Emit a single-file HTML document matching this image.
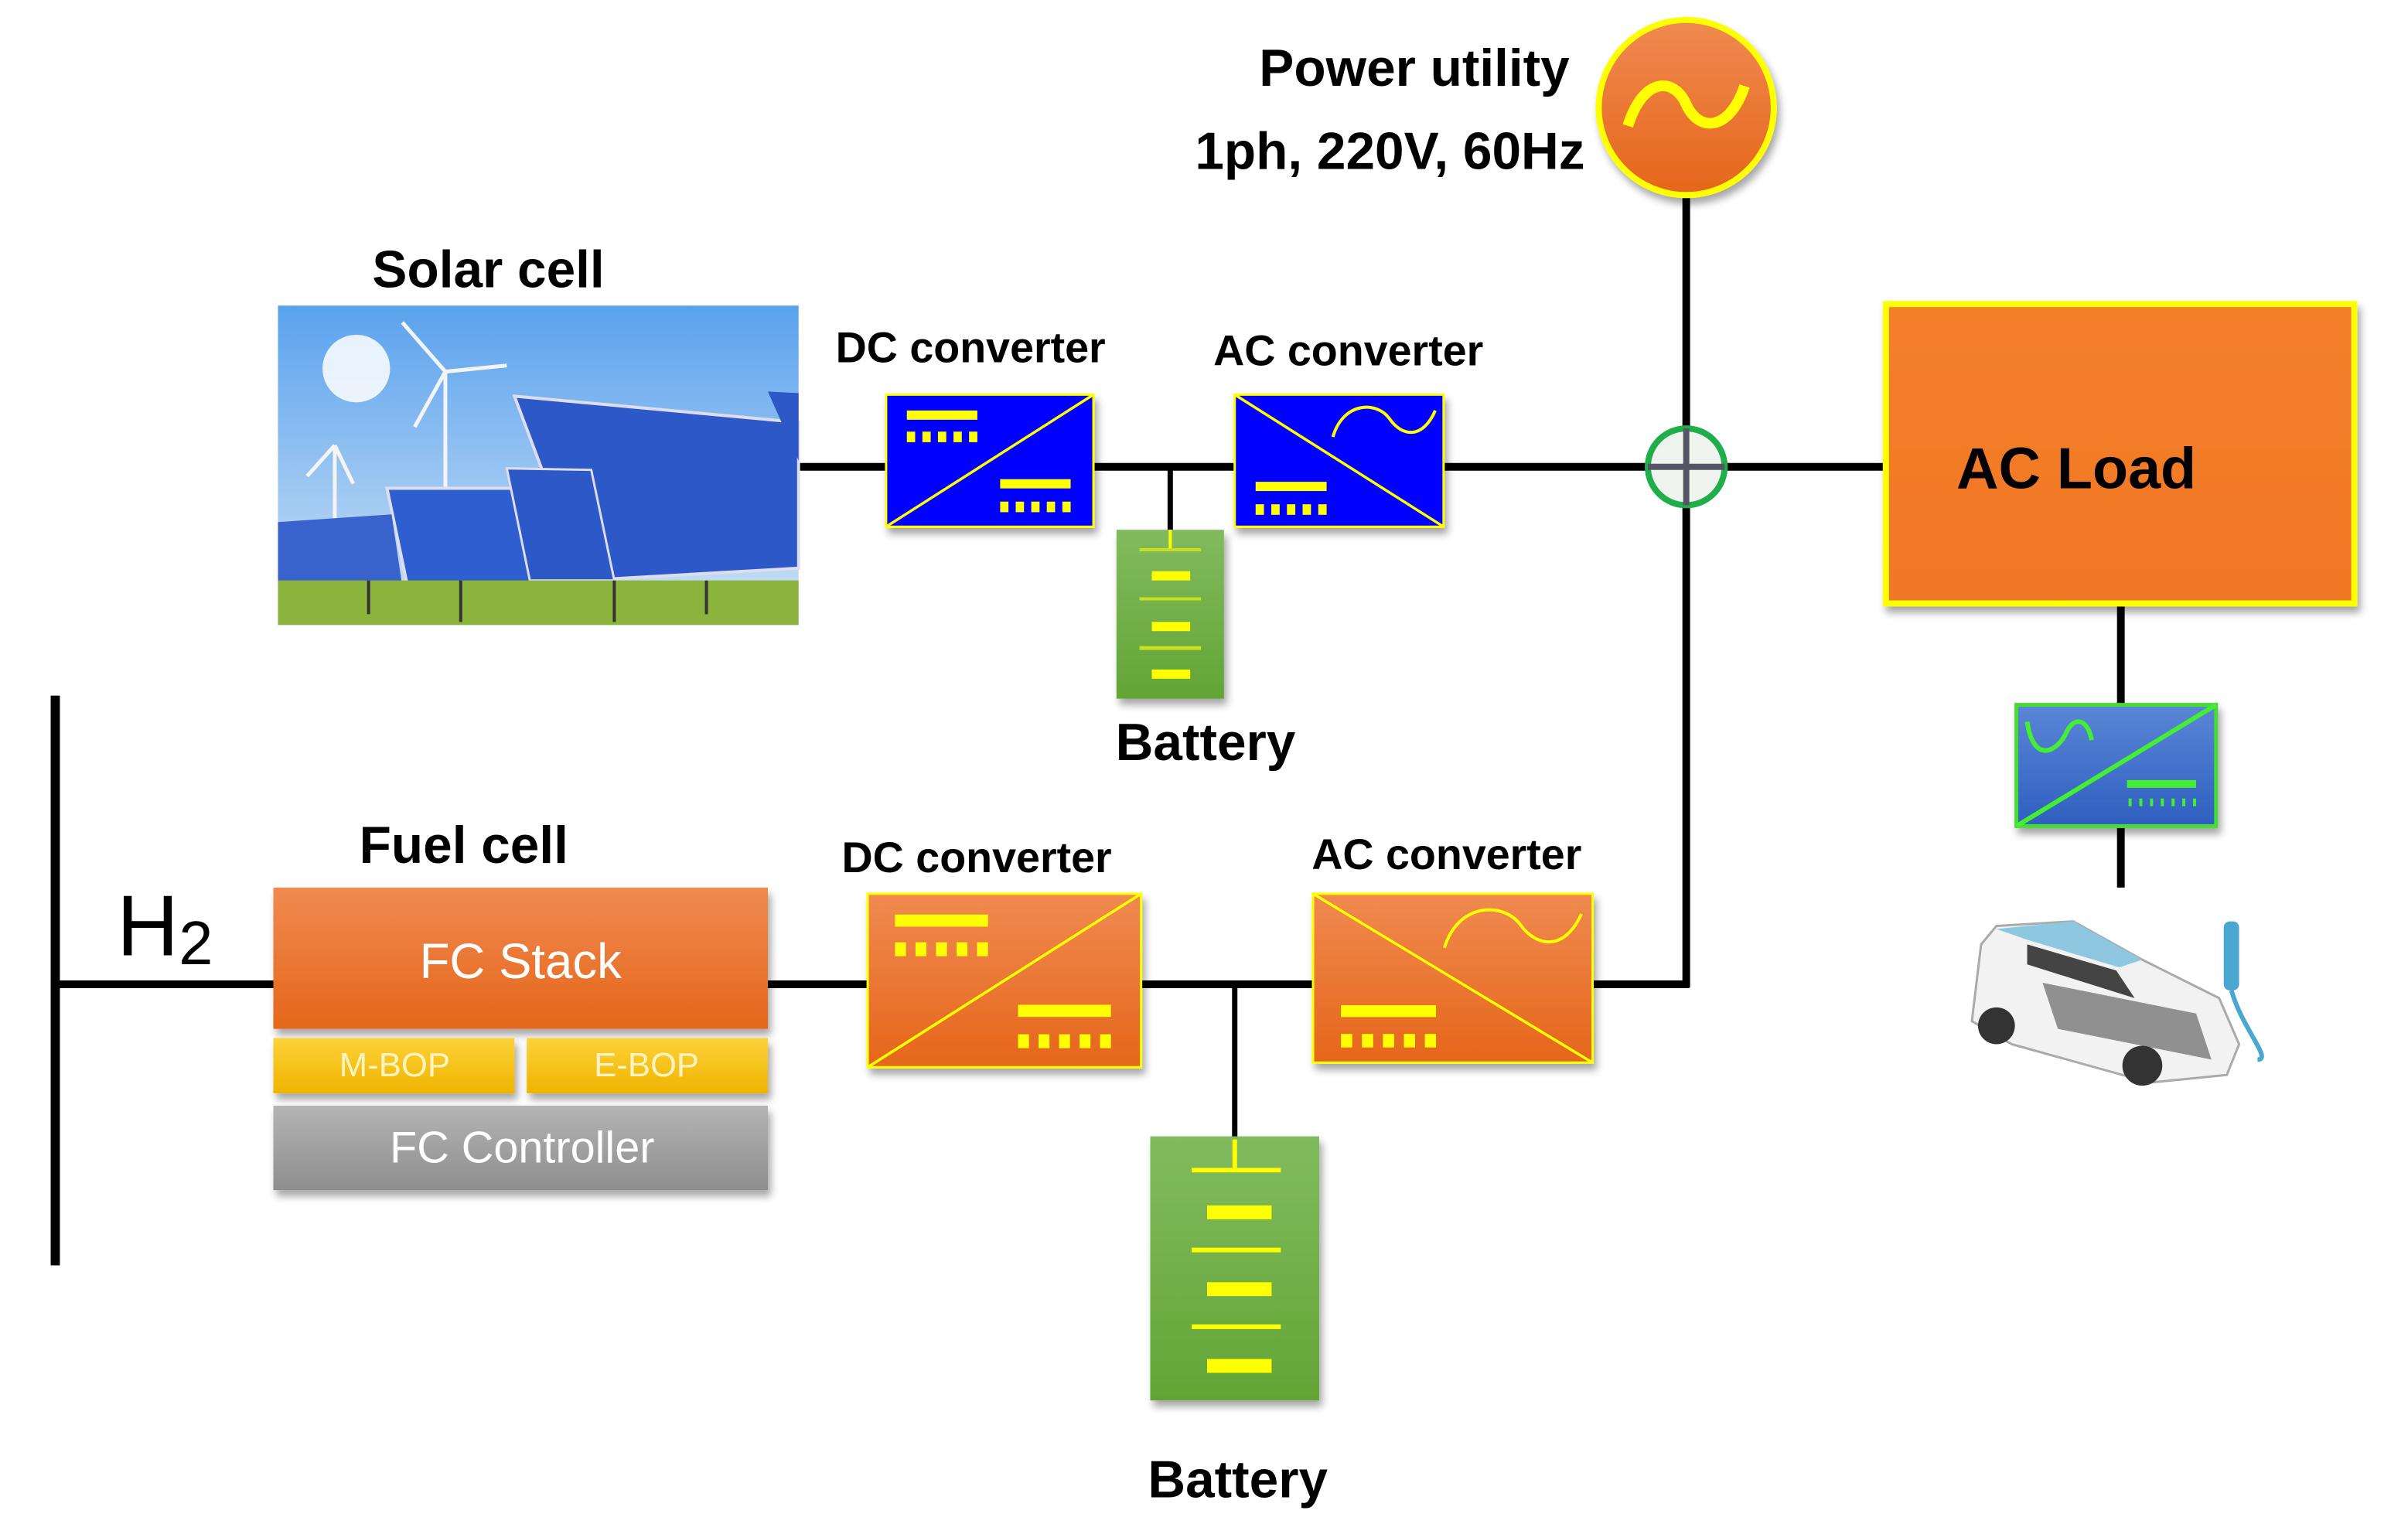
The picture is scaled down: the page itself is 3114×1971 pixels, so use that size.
<!DOCTYPE html>
<html><head><meta charset="utf-8"><style>
html,body{margin:0;padding:0;background:#fff}
svg{display:block}
text{font-family:"Liberation Sans","DejaVu Sans",sans-serif;font-weight:bold}
</style></head><body>
<svg width="3114" height="1971" viewBox="0 0 1557 985.5" xmlns="http://www.w3.org/2000/svg">
<defs>
<linearGradient id="sky" x1="0" y1="0" x2="0" y2="1"><stop offset="0" stop-color="#5aa2ee"/><stop offset="1" stop-color="#cfe3f5"/></linearGradient>
<linearGradient id="org" x1="0" y1="0" x2="0" y2="1"><stop offset="0" stop-color="#f08a50"/><stop offset="1" stop-color="#e5661a"/></linearGradient>
<linearGradient id="org2" x1="0" y1="0" x2="0" y2="1"><stop offset="0" stop-color="#f47f2c"/><stop offset="1" stop-color="#f07724"/></linearGradient>
<linearGradient id="yel" x1="0" y1="0" x2="0" y2="1"><stop offset="0" stop-color="#fdd23a"/><stop offset="1" stop-color="#efb400"/></linearGradient>
<linearGradient id="gry" x1="0" y1="0" x2="0" y2="1"><stop offset="0" stop-color="#b4b4b4"/><stop offset="1" stop-color="#8e8e8e"/></linearGradient>
<linearGradient id="grn" x1="0" y1="0" x2="0" y2="1"><stop offset="0" stop-color="#82bb5e"/><stop offset="1" stop-color="#62a535"/></linearGradient>
<linearGradient id="blu2" x1="0" y1="0" x2="0" y2="1"><stop offset="0" stop-color="#5a86d6"/><stop offset="1" stop-color="#2e5fc0"/></linearGradient>
<g id="dc">
<rect x="0" y="0" width="100" height="100" stroke="#ffff00" stroke-width="3" vector-effect="non-scaling-stroke"/>
<line x1="0" y1="100" x2="100" y2="0" stroke="#ffff00" stroke-width="3.5" vector-effect="non-scaling-stroke"/>
<rect x="10" y="12" width="34" height="7" fill="#ffff00"/>
<g fill="#ffff00"><rect x="10" y="28" width="4" height="8"/><rect x="17.5" y="28" width="4" height="8"/><rect x="25" y="28" width="4" height="8"/><rect x="32.5" y="28" width="4" height="8"/><rect x="40" y="28" width="4" height="8"/></g>
<rect x="55" y="64" width="34" height="7" fill="#ffff00"/>
<g fill="#ffff00"><rect x="55" y="81" width="4" height="8"/><rect x="62.5" y="81" width="4" height="8"/><rect x="70" y="81" width="4" height="8"/><rect x="77.5" y="81" width="4" height="8"/><rect x="85" y="81" width="4" height="8"/></g>
</g>
<g id="ac">
<rect x="0" y="0" width="100" height="100" stroke="#ffff00" stroke-width="3" vector-effect="non-scaling-stroke"/>
<line x1="0" y1="0" x2="100" y2="100" stroke="#ffff00" stroke-width="3.5" vector-effect="non-scaling-stroke"/>
<path d="M47 32 C52 5 68 5 74 18 C80 32 90 34 96 12" fill="none" stroke="#ffff00" stroke-width="4" vector-effect="non-scaling-stroke"/>
<rect x="10" y="66" width="34" height="7" fill="#ffff00"/>
<g fill="#ffff00"><rect x="10" y="83" width="4" height="8"/><rect x="17.5" y="83" width="4" height="8"/><rect x="25" y="83" width="4" height="8"/><rect x="32.5" y="83" width="4" height="8"/><rect x="40" y="83" width="4" height="8"/></g>
</g>
<filter id="sh" x="-10%" y="-10%" width="130%" height="130%"><feDropShadow dx="2" dy="4" stdDeviation="2.5" flood-color="#000" flood-opacity="0.35"/></filter>
</defs>
<g transform="scale(0.993)">
<!-- lines -->
<g stroke="#000" stroke-width="5" fill="none">
<line x1="520" y1="304" x2="1228" y2="304"/>
<line x1="1098" y1="125" x2="1098" y2="643"/>
<line x1="500" y1="641" x2="1100" y2="641"/>
<line x1="36" y1="641" x2="178" y2="641"/>
<line x1="1381" y1="393" x2="1381" y2="578"/>
</g>
<g stroke="#000" stroke-width="3.5">
<line x1="762" y1="304" x2="762" y2="345"/>
<line x1="804" y1="641" x2="804" y2="742"/>
</g>
<line x1="36" y1="453" x2="36" y2="824" stroke="#000" stroke-width="6"/>

<!-- power utility -->
<text x="1022" y="56" font-size="34" text-anchor="end">Power utility</text>
<text x="1032" y="110" font-size="34" text-anchor="end">1ph, 220V, 60Hz</text>
<circle cx="1098" cy="70" r="57" fill="url(#org)" stroke="#ffff00" stroke-width="4" filter="url(#sh)"/>
<path d="M1060 82 C1070 50 1090 50 1098 68 C1106 86 1126 86 1136 56" fill="none" stroke="#ffff00" stroke-width="7"/>
<circle cx="1098" cy="304" r="25" fill="#eef3ee" stroke="#1fae4a" stroke-width="4"/>
<line x1="1073" y1="304" x2="1123" y2="304" stroke="#556" stroke-width="4"/>
<line x1="1098" y1="279" x2="1098" y2="329" stroke="#556" stroke-width="4"/>

<!-- solar -->
<text x="318" y="187" font-size="34" text-anchor="middle">Solar cell</text>
<rect x="181" y="199" width="339" height="208" fill="url(#sky)"/>
<circle cx="232" cy="240" r="22" fill="#fff" opacity="0.85"/>
<g stroke="#f4f4f4" stroke-width="2.5"><line x1="290" y1="242" x2="290" y2="320"/><line x1="290" y1="242" x2="262" y2="210"/><line x1="290" y1="242" x2="330" y2="238"/><line x1="290" y1="242" x2="270" y2="278"/>
<line x1="218" y1="290" x2="218" y2="370"/><line x1="218" y1="290" x2="200" y2="310"/><line x1="218" y1="290" x2="230" y2="315"/></g>
<polygon points="335,258 520,275 520,370 380,378" fill="#2d58c8" stroke="#dde" stroke-width="2"/>
<polygon points="252,318 340,318 356,380 265,380" fill="#2f5ed0" stroke="#dde" stroke-width="2"/>
<polygon points="330,305 385,306 400,378 345,378" fill="#2d58c8" stroke="#dde" stroke-width="1.5"/>
<polygon points="181,340 255,335 262,382 181,384" fill="#3a62cc"/>
<polygon points="500,255 520,256 520,300" fill="#2d58c8"/>
<rect x="181" y="378" width="339" height="29" fill="#8ab43c"/>
<g stroke="#333" stroke-width="2"><line x1="300" y1="378" x2="300" y2="405"/><line x1="400" y1="378" x2="400" y2="405"/><line x1="460" y1="378" x2="460" y2="400"/><line x1="240" y1="378" x2="240" y2="400"/></g>

<!-- top converters -->
<text x="632" y="236" font-size="28" text-anchor="middle">DC converter</text>
<text x="878" y="238" font-size="28" text-anchor="middle">AC converter</text>
<g fill="#0000ff" filter="url(#sh)">
<use href="#dc" transform="translate(577,257) scale(1.35,0.86)"/>
<use href="#ac" transform="translate(804,257) scale(1.36,0.86)"/>
</g>
<!-- top battery -->
<rect x="727" y="345" width="70" height="110" fill="url(#grn)" filter="url(#sh)"/>
<g stroke="#ffff00"><line x1="762" y1="345" x2="762" y2="358" stroke-width="2"/><line x1="742" y1="358" x2="782" y2="358" stroke-width="2" stroke="#c8e020"/><line x1="742" y1="390" x2="782" y2="390" stroke-width="2" stroke="#c8e020"/><line x1="742" y1="422" x2="782" y2="422" stroke-width="2.5" stroke="#c8e020"/></g>
<g fill="#ffff00"><rect x="750" y="372" width="25" height="6"/><rect x="750" y="405" width="25" height="6"/><rect x="750" y="436" width="25" height="6"/></g>
<text x="785" y="495" font-size="34" text-anchor="middle">Battery</text>

<!-- AC Load -->
<rect x="1228" y="198" width="305" height="195" fill="url(#org2)" stroke="#ffff00" stroke-width="4" filter="url(#sh)"/>
<text x="1352" y="318" font-size="38" text-anchor="middle">AC Load</text>
<!-- small converter -->
<g filter="url(#sh)">
<rect x="1313" y="459" width="130" height="79" fill="url(#blu2)" stroke="#44dd33" stroke-width="2.5"/>
<line x1="1313" y1="538" x2="1443" y2="459" stroke="#44ee33" stroke-width="3"/>
<path d="M1320 470 C1324 498 1340 490 1346 476 C1352 465 1360 470 1362 482" fill="none" stroke="#44ee33" stroke-width="3"/>
<rect x="1385" y="508" width="45" height="5" fill="#44ee33"/>
<g fill="#44ee33"><rect x="1386" y="520" width="2" height="5"/><rect x="1393" y="520" width="2" height="5"/><rect x="1400" y="520" width="2" height="5"/><rect x="1407" y="520" width="2" height="5"/><rect x="1414" y="520" width="2" height="5"/><rect x="1421" y="520" width="2" height="5"/><rect x="1428" y="520" width="2" height="5"/></g>
</g>
<!-- car -->
<g>
<path d="M1290 615 L1300 603 L1350 600 L1395 625 L1445 650 L1458 680 L1450 700 L1400 705 L1310 680 L1284 665 Z" fill="#f2f2f2" stroke="#aaa" stroke-width="1.5"/>
<path d="M1300 605 L1350 600 L1395 625 L1380 630 L1320 612 Z" fill="#8ec8e0"/>
<path d="M1320 615 L1378 632 L1390 650 L1320 628 Z" fill="#444"/>
<path d="M1330 640 L1430 660 L1440 690 L1340 670 Z" fill="#777" opacity="0.8"/>
<circle cx="1300" cy="668" r="12" fill="#333"/><circle cx="1395" cy="694" r="13" fill="#333"/>
<rect x="1448" y="600" width="10" height="45" rx="4" fill="#4aa8d0"/>
<path d="M1453 645 C1460 670 1480 690 1470 690" fill="none" stroke="#4aa8d0" stroke-width="3"/>
</g>

<!-- H2 / fuel cell -->
<text x="76" y="622" font-size="56" style="font-weight:normal">H<tspan font-size="40" dy="6">2</tspan></text>
<text x="302" y="562" font-size="34" text-anchor="middle">Fuel cell</text>
<g filter="url(#sh)">
<rect x="178" y="578" width="322" height="92" fill="url(#org)"/>
<rect x="178" y="676" width="157" height="36" fill="url(#yel)"/>
<rect x="343" y="676" width="157" height="36" fill="url(#yel)"/>
<rect x="178" y="720" width="322" height="55" fill="url(#gry)"/>
</g>
<g fill="#fff" text-anchor="middle">
<text x="339" y="637" font-size="32" style="font-weight:normal">FC Stack</text>
<text x="257" y="701" font-size="22" fill="#fff3c0" style="font-weight:normal">M-BOP</text>
<text x="421" y="701" font-size="22" fill="#fff3c0" style="font-weight:normal">E-BOP</text>
<text x="340" y="757" font-size="29" style="font-weight:normal">FC Controller</text>
</g>

<!-- bottom converters -->
<text x="636" y="568" font-size="28" text-anchor="middle">DC converter</text>
<text x="942" y="566" font-size="28" text-anchor="middle">AC converter</text>
<g fill="url(#org)" filter="url(#sh)">
<use href="#dc" transform="translate(565,582) scale(1.78,1.13)"/>
<use href="#ac" transform="translate(855,582) scale(1.82,1.10)"/>
</g>
<!-- bottom battery -->
<rect x="749" y="740" width="110" height="172" fill="url(#grn)" filter="url(#sh)"/>
<g stroke="#ffff00" stroke-width="3"><line x1="804" y1="742" x2="804" y2="762"/><line x1="776" y1="762" x2="834" y2="762"/><line x1="776" y1="814" x2="834" y2="814"/><line x1="776" y1="864" x2="834" y2="864"/></g>
<g fill="#ffff00"><rect x="786" y="785" width="42" height="9"/><rect x="786" y="835" width="42" height="9"/><rect x="786" y="885" width="42" height="9"/></g>
<text x="806" y="975" font-size="34" text-anchor="middle">Battery</text>
</g>
</svg>
</body></html>
